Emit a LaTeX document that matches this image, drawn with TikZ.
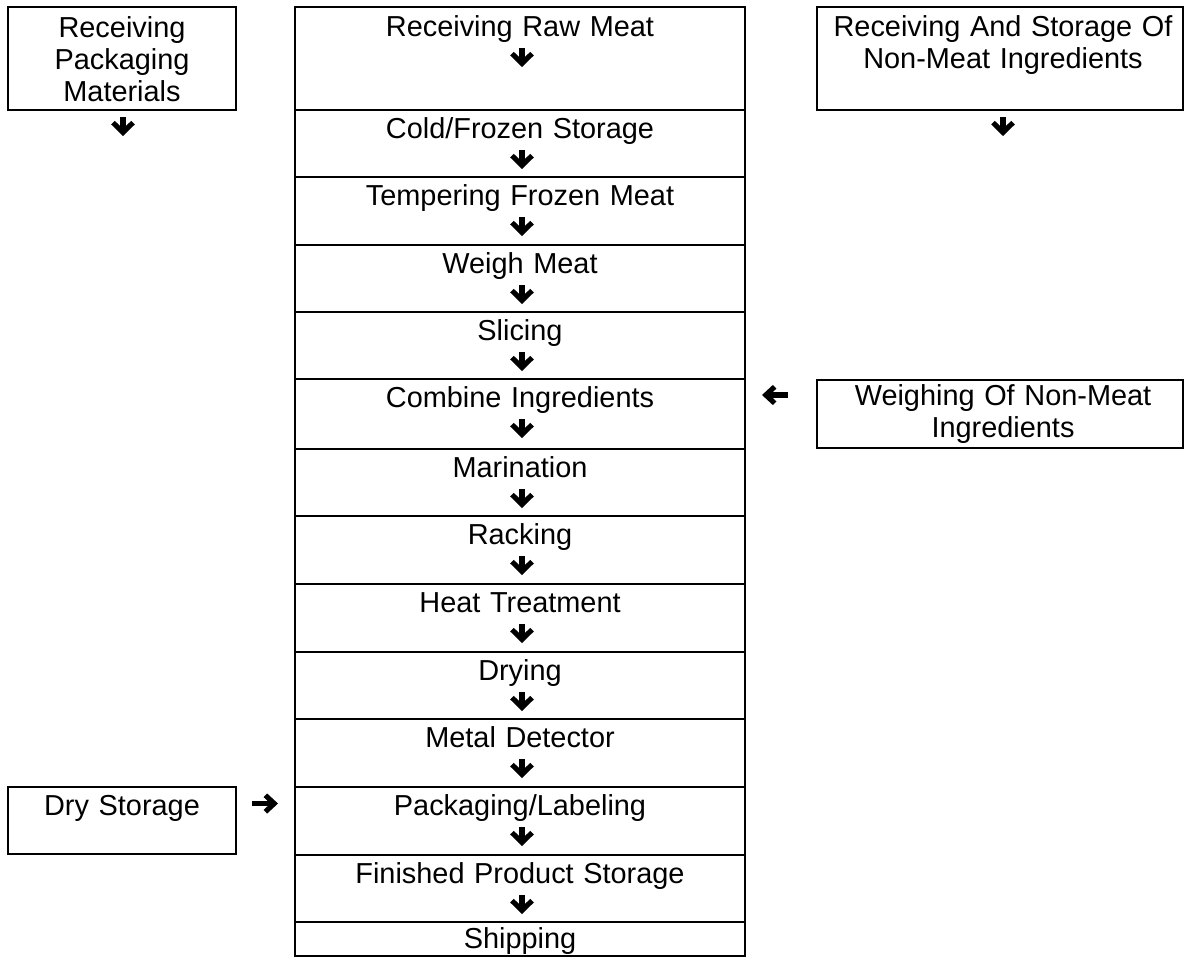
\documentclass[tikz,border=0pt]{standalone}
\usepackage{fontspec}
\setmainfont{Liberation Sans}
\usetikzlibrary{arrows.meta}

\begin{document}
\begin{tikzpicture}[x=0.45pt,y=-0.45pt,
	box/.style={draw,line width=0.9pt,inner sep=0pt,outer sep=0pt,anchor=north west},
	cell/.style={box,minimum width=202.5pt,minimum height=#1},
	lbl/.style={font=\fontsize{13}{14.6}\selectfont,align=center,text width=#1,anchor=base,inner sep=0pt},
	lbl/.default=200pt,
	dn/.style={line width=2.3pt,-{Straight Barb[length=4.4pt,width=9pt]}},
	lr/.style={line width=2.3pt,-{Straight Barb[length=4pt,width=7.4pt]}}]
	\useasboundingbox (0,0) rectangle (1185,957);
	% main column
	\node[cell=46.35pt] (C1) at (295,7) {};
	\node[cell=30.15pt] (C2) at (C1.south west) {};
	\node[cell=30.6pt] (C3) at (C2.south west) {};
	\node[cell=30.15pt] (C4) at (C3.south west) {};
	\node[cell=30.15pt] (C5) at (C4.south west) {};
	\node[cell=31.5pt] (C6) at (C5.south west) {};
	\node[cell=30.15pt] (C7) at (C6.south west) {};
	\node[cell=30.6pt] (C8) at (C7.south west) {};
	\node[cell=30.6pt] (C9) at (C8.south west) {};
	\node[cell=30.15pt] (C10) at (C9.south west) {};
	\node[cell=30.6pt] (C11) at (C10.south west) {};
	\node[cell=30.6pt] (C12) at (C11.south west) {};
	\node[cell=30.15pt] (C13) at (C12.south west) {};
	\node[cell=15.3pt] (C14) at (C13.south west) {};
	\node[lbl] (T1) at ([shift={(0,29)}]C1.north) {Receiving Raw Meat};
	\node[lbl] (T2) at ([shift={(0,28)}]C2.north) {Cold/Frozen Storage};
	\node[lbl] (T3) at ([shift={(0,28)}]C3.north) {Tempering Frozen Meat};
	\node[lbl] (T4) at ([shift={(0,28)}]C4.north) {Weigh Meat};
	\node[lbl] (T5) at ([shift={(0,28)}]C5.north) {Slicing};
	\node[lbl] (T6) at ([shift={(0,28)}]C6.north) {Combine Ingredients};
	\node[lbl] (T7) at ([shift={(0,28)}]C7.north) {Marination};
	\node[lbl] (T8) at ([shift={(0,28)}]C8.north) {Racking};
	\node[lbl] (T9) at ([shift={(0,28)}]C9.north) {Heat Treatment};
	\node[lbl] (T10) at ([shift={(0,28)}]C10.north) {Drying};
	\node[lbl] (T11) at ([shift={(0,28)}]C11.north) {Metal Detector};
	\node[lbl] (T12) at ([shift={(0,28)}]C12.north) {Packaging/Labeling};
	\node[lbl] (T13) at ([shift={(0,28)}]C13.north) {Finished Product Storage};
	\node[lbl] (T14) at ([shift={(0,26)}]C14.north) {Shipping};
	\draw[dn] (T1.base) ++(2,12) -- ++(0,19);
	\draw[dn] (T2.base) ++(2,12) -- ++(0,19);
	\draw[dn] (T3.base) ++(2,12) -- ++(0,19);
	\draw[dn] (T4.base) ++(2,12) -- ++(0,19);
	\draw[dn] (T5.base) ++(2,12) -- ++(0,19);
	\draw[dn] (T6.base) ++(2,12) -- ++(0,19);
	\draw[dn] (T7.base) ++(2,12) -- ++(0,19);
	\draw[dn] (T8.base) ++(2,12) -- ++(0,19);
	\draw[dn] (T9.base) ++(2,12) -- ++(0,19);
	\draw[dn] (T10.base) ++(2,12) -- ++(0,19);
	\draw[dn] (T11.base) ++(2,12) -- ++(0,19);
	\draw[dn] (T12.base) ++(2,12) -- ++(0,19);
	\draw[dn] (T13.base) ++(2,12) -- ++(0,19);
	% side boxes
	\node[box,minimum width=102.6pt,minimum height=46.35pt] (P) at (8,7) {};
	\node[lbl=100pt] (PT) at ([shift={(0,30)}]P.north) {Receiving\\Packaging\\Materials};
	\draw[dn] (P.south) ++(1,7) -- ++(0,19);
	\node[box,minimum width=164.7pt,minimum height=46.35pt] (R) at (817,7) {};
	\node[lbl=162pt] (RT) at ([shift={(3,29)}]R.north) {Receiving And Storage Of\\Non-Meat Ingredients};
	\draw[dn] (R.south) ++(3,7) -- ++(0,19);
	\node[box,minimum width=164.7pt,minimum height=30.6pt] (W) at (817,380) {};
	\node[lbl=162pt] (WT) at ([shift={(3,25)}]W.north) {Weighing Of Non-Meat\\Ingredients};
	\draw[lr] (W.west) ++(-29,-19) -- ++(-26,0);
	\node[box,minimum width=102.6pt,minimum height=30.15pt] (D) at (8,787) {};
	\node[lbl=100pt] (DT) at ([shift={(0,28)}]D.north) {Dry Storage};
	\draw[lr] (D.east) ++(16,-17) -- ++(26,0);
\end{tikzpicture}
\end{document}
